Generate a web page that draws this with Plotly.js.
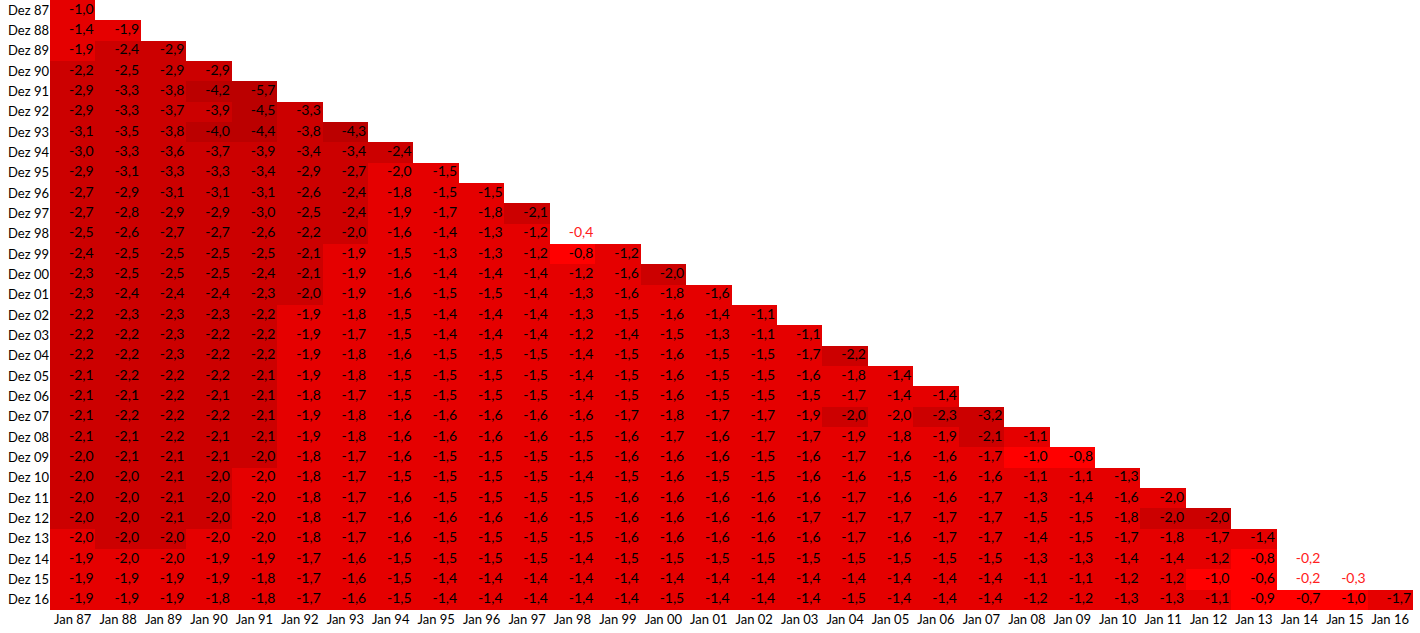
<!DOCTYPE html>
<html>
<head>
<meta charset="utf-8">
<script src="https://cdn.plot.ly/plotly-3.0.1.min.js"></script>
<style>
  html, body { margin: 0; padding: 0; background: #ffffff; }
  #chart { width: 1420px; height: 633px; }
</style>
</head>
<body>
<div id="chart"></div>
<script>
// Column labels (start month)
const xLabels = ['Jan 87','Jan 88','Jan 89','Jan 90','Jan 91','Jan 92','Jan 93','Jan 94','Jan 95','Jan 96',
                 'Jan 97','Jan 98','Jan 99','Jan 00','Jan 01','Jan 02','Jan 03','Jan 04','Jan 05','Jan 06',
                 'Jan 07','Jan 08','Jan 09','Jan 10','Jan 11','Jan 12','Jan 13','Jan 14','Jan 15','Jan 16'];
// Row labels (end month)
const yLabels = ['Dez 87','Dez 88','Dez 89','Dez 90','Dez 91','Dez 92','Dez 93','Dez 94','Dez 95','Dez 96',
                 'Dez 97','Dez 98','Dez 99','Dez 00','Dez 01','Dez 02','Dez 03','Dez 04','Dez 05','Dez 06',
                 'Dez 07','Dez 08','Dez 09','Dez 10','Dez 11','Dez 12','Dez 13','Dez 14','Dez 15','Dez 16'];

// Values per row (estimated; shown rounded to one decimal)
const rows = [
  [-1.03],
  [-1.4,-1.9],
  [-1.9,-2.4,-2.9],
  [-2.2,-2.5,-2.9,-2.9],
  [-2.9,-3.3,-3.8,-4.2,-5.7],
  [-2.9,-3.3,-3.7,-3.9,-4.5,-3.3],
  [-3.1,-3.5,-3.8,-4.0,-4.4,-3.8,-4.3],
  [-3.0,-3.3,-3.6,-3.7,-3.9,-3.4,-3.4,-2.4],
  [-2.9,-3.1,-3.3,-3.3,-3.4,-2.9,-2.7,-1.98,-1.5],
  [-2.7,-2.9,-3.1,-3.1,-3.1,-2.6,-2.4,-1.8,-1.5,-1.5],
  [-2.7,-2.8,-2.9,-2.9,-3.0,-2.5,-2.4,-1.9,-1.7,-1.8,-2.1],
  [-2.5,-2.6,-2.7,-2.7,-2.6,-2.2,-2.02,-1.6,-1.4,-1.3,-1.2,-0.4],
  [-2.4,-2.5,-2.5,-2.5,-2.5,-2.1,-1.9,-1.5,-1.3,-1.3,-1.2,-0.8,-1.2],
  [-2.3,-2.5,-2.5,-2.5,-2.4,-2.1,-1.9,-1.6,-1.4,-1.4,-1.4,-1.2,-1.6,-2.02],
  [-2.3,-2.4,-2.4,-2.4,-2.3,-2.02,-1.9,-1.6,-1.5,-1.5,-1.4,-1.3,-1.6,-1.8,-1.6],
  [-2.2,-2.3,-2.3,-2.3,-2.2,-1.9,-1.8,-1.5,-1.4,-1.4,-1.4,-1.3,-1.5,-1.6,-1.4,-1.1],
  [-2.2,-2.2,-2.3,-2.2,-2.2,-1.9,-1.7,-1.5,-1.4,-1.4,-1.4,-1.2,-1.4,-1.5,-1.3,-1.1,-1.1],
  [-2.2,-2.2,-2.3,-2.2,-2.2,-1.9,-1.8,-1.6,-1.5,-1.5,-1.5,-1.4,-1.5,-1.6,-1.5,-1.5,-1.7,-2.2],
  [-2.1,-2.2,-2.2,-2.2,-2.1,-1.9,-1.8,-1.5,-1.5,-1.5,-1.5,-1.4,-1.5,-1.6,-1.5,-1.5,-1.6,-1.8,-1.4],
  [-2.1,-2.1,-2.2,-2.1,-2.1,-1.8,-1.7,-1.5,-1.5,-1.5,-1.5,-1.4,-1.5,-1.6,-1.5,-1.5,-1.5,-1.7,-1.4,-1.4],
  [-2.1,-2.2,-2.2,-2.2,-2.1,-1.9,-1.8,-1.6,-1.6,-1.6,-1.6,-1.6,-1.7,-1.8,-1.7,-1.7,-1.9,-2.02,-1.98,-2.3,-3.2],
  [-2.1,-2.1,-2.2,-2.1,-2.1,-1.9,-1.8,-1.6,-1.6,-1.6,-1.6,-1.5,-1.6,-1.7,-1.6,-1.7,-1.7,-1.9,-1.8,-1.9,-2.1,-1.1],
  [-2.02,-2.1,-2.1,-2.1,-2.02,-1.8,-1.7,-1.6,-1.5,-1.5,-1.5,-1.5,-1.6,-1.6,-1.6,-1.5,-1.6,-1.7,-1.6,-1.6,-1.7,-0.97,-0.8],
  [-2.02,-2.02,-2.1,-2.02,-1.98,-1.8,-1.7,-1.5,-1.5,-1.5,-1.5,-1.4,-1.5,-1.6,-1.5,-1.5,-1.6,-1.6,-1.5,-1.6,-1.6,-1.1,-1.1,-1.3],
  [-2.02,-2.02,-2.1,-2.02,-1.98,-1.8,-1.7,-1.6,-1.5,-1.5,-1.5,-1.5,-1.6,-1.6,-1.6,-1.6,-1.6,-1.7,-1.6,-1.6,-1.7,-1.3,-1.4,-1.6,-1.98],
  [-2.02,-2.02,-2.1,-2.02,-1.98,-1.8,-1.7,-1.6,-1.6,-1.6,-1.6,-1.5,-1.6,-1.6,-1.6,-1.6,-1.7,-1.7,-1.7,-1.7,-1.7,-1.5,-1.5,-1.8,-2.02,-2.02],
  [-1.98,-2.02,-2.02,-1.98,-1.98,-1.8,-1.7,-1.6,-1.5,-1.5,-1.5,-1.5,-1.6,-1.6,-1.6,-1.6,-1.6,-1.7,-1.6,-1.7,-1.7,-1.4,-1.5,-1.7,-1.8,-1.7,-1.4],
  [-1.9,-1.98,-1.98,-1.9,-1.9,-1.7,-1.6,-1.5,-1.5,-1.5,-1.5,-1.4,-1.5,-1.5,-1.5,-1.5,-1.5,-1.5,-1.5,-1.5,-1.5,-1.3,-1.3,-1.4,-1.4,-1.2,-0.8,-0.2],
  [-1.9,-1.9,-1.9,-1.9,-1.8,-1.7,-1.6,-1.5,-1.4,-1.4,-1.4,-1.4,-1.4,-1.4,-1.4,-1.4,-1.4,-1.4,-1.4,-1.4,-1.4,-1.1,-1.1,-1.2,-1.2,-0.97,-0.6,-0.2,-0.3],
  [-1.9,-1.9,-1.9,-1.8,-1.8,-1.7,-1.6,-1.5,-1.4,-1.4,-1.4,-1.4,-1.4,-1.5,-1.4,-1.4,-1.4,-1.5,-1.4,-1.4,-1.4,-1.2,-1.2,-1.3,-1.3,-1.1,-0.9,-0.7,-0.97,-1.7]
];

// Build heatmap matrix and text layer
const n = xLabels.length;
const idx = xLabels.map((_, i) => i);
const zFill = [];
const tx = [], ty = [], tt = [], tc = [];
for (let i = 0; i < yLabels.length; i++) {
  const row = [];
  for (let j = 0; j < n; j++) {
    const v = rows[i][j];
    if (v === undefined) { row.push(null); continue; }
    row.push(v > -0.5 ? null : v);
    tx.push(j + 0.46);
    ty.push(i);
    tt.push(v.toFixed(1).replace('.', ','));
    tc.push(v > -0.5 ? '#ff2020' : '#000000');
  }
  zFill.push(row);
}

const zmin = -6, zmax = -0.5, span = zmax - zmin;
const t1 = (-3.95 - zmin) / span, t2 = (-2.0 - zmin) / span, t3 = (-1.0 - zmin) / span;
const colorscale = [
  [0, '#bb0000'], [t1, '#bb0000'],
  [t1, '#cc0000'], [t2, '#cc0000'],
  [t2, '#e50000'], [t3, '#e50000'],
  [t3, '#ff0000'], [1, '#ff0000']
];

const heat = {
  type: 'heatmap',
  x: idx, y: yLabels.map((_, i) => i), z: zFill,
  zmin: zmin, zmax: zmax, colorscale: colorscale,
  showscale: false, hoverinfo: 'skip', xgap: 0, ygap: 0
};
const labels = {
  type: 'scatter', mode: 'text',
  x: tx, y: ty, text: tt,
  textposition: 'middle left',
  textfont: { family: 'Lato, sans-serif', size: 14, color: tc },
  hoverinfo: 'skip', showlegend: false
};

const layout = {
  width: 1420, height: 633,
  margin: { l: 50, r: 7, t: 0, b: 23, pad: 0 },
  paper_bgcolor: '#ffffff', plot_bgcolor: '#ffffff',
  showlegend: false,
  font: { family: 'Lato, sans-serif', size: 13, color: '#000000' },
  xaxis: {
    range: [-0.5, n - 0.5], tickvals: idx, ticktext: xLabels,
    showgrid: false, zeroline: false, showline: false, ticks: '',
    tickfont: { family: 'Lato, sans-serif', size: 13, color: '#000000' }, fixedrange: true
  },
  yaxis: {
    range: [yLabels.length - 0.5, -0.5], tickvals: yLabels.map((_, i) => i), ticktext: yLabels,
    showgrid: false, zeroline: false, showline: false, ticks: '',
    tickfont: { family: 'Lato, sans-serif', size: 13, color: '#000000' }, fixedrange: true
  }
};

Plotly.newPlot('chart', [heat, labels], layout, { displayModeBar: false, staticPlot: true });
</script>
</body>
</html>
